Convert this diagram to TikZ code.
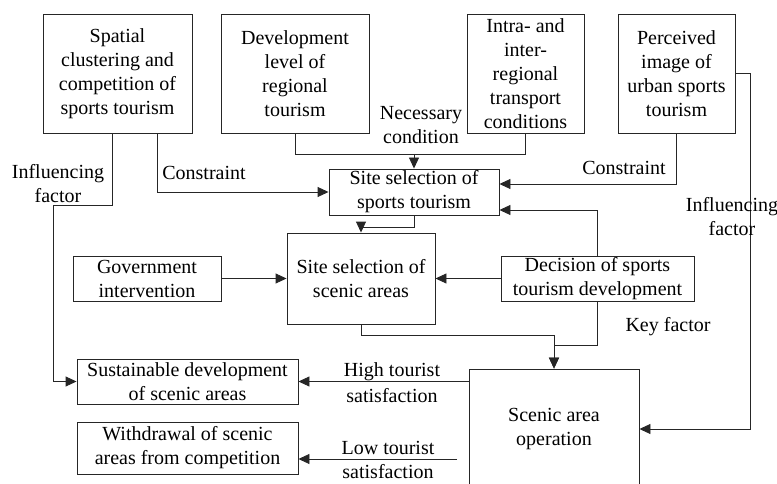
\documentclass[tikz,border=0pt]{standalone}
\usepackage{fontspec}
\setmainfont{Liberation Serif}
\usetikzlibrary{arrows.meta}
\begin{document}
\begin{tikzpicture}[x=1pt,y=-1pt,
  box/.style={draw=black!85, line width=0.9pt, align=center, inner sep=0pt},
  conn/.style={draw=black!85, line width=0.9pt},
  arr/.style={conn, -{Triangle[length=11pt,width=10pt]}},
  lbl/.style={align=center, inner sep=0pt},
  every node/.style={font=\fontsize{20}{24}\selectfont}]
\useasboundingbox (0,0) rectangle (777,484);
\clip (0,0) rectangle (777,484);
% boxes
\node[box, minimum width=149pt, minimum height=119pt] (spatial) at (117.5,73.5) {Spatial\\clustering and\\competition of\\sports tourism};
\node[box, minimum width=148pt, minimum height=119pt] (dev) at (295,73.5) {Development\\level of\\regional\\tourism};
\node[box, minimum width=117pt, minimum height=119pt] (intra) at (525.5,73.5) {Intra- and\\inter-\\regional\\transport\\conditions};
\node[box, minimum width=117pt, minimum height=119pt] (perc) at (676.5,73.5) {Perceived\\image of\\urban sports\\tourism};
\node[box, minimum width=170pt, minimum height=46pt] (sitesp) at (414,192) {Site selection of\\sports tourism};
\node[box, minimum width=148pt, minimum height=91pt] (sitesc) at (361,278.5) {Site selection of\\scenic areas};
\node[box, minimum width=148pt, minimum height=45pt] (gov) at (147,278.5) {Government\\intervention};
\node[box, minimum width=193pt, minimum height=45pt] (dec) at (597.5,278.5) {Decision of sports\\tourism development};
\node[box, minimum width=221pt, minimum height=45pt] (sust) at (187.5,381.5) {Sustainable development\\of scenic areas};
\node[box, minimum width=221pt, minimum height=52pt] (withd) at (187.5,448) {Withdrawal of scenic\\areas from competition};
\node[box, minimum width=170pt, minimum height=120pt] (op) at (554,429) {Scenic area\\operation};
% connectors
\draw[arr] ([xshift=-5.5pt]spatial.south) |- (53,205) |- (sust.west);
\draw[arr] ([xshift=39.5pt]spatial.south) |- (sitesp.west);
\coordinate (nc) at (414,154);
\draw[conn] (dev.south) |- (nc);
\draw[conn] (intra.south) |- (nc);
\draw[arr] (nc) -- (sitesp.north);
\draw[arr] (perc.south) |- ([yshift=8pt]sitesp.east);
\draw[arr] (dec.north) |- ([yshift=-18pt]sitesp.east);
\draw[arr] (perc.east) -- (750,73.5) |- (op.east);
\draw[arr] (sitesp.south) -- ++(0,12) -| (sitesc.north);
\draw[arr] (gov.east) -- (sitesc.west);
\draw[arr] (dec.west) -- (sitesc.east);
\draw[arr] (sitesc.south) -- ++(0,11) -| (op.north);
\draw[arr] (dec.south) -- ++(0,44) -| (op.north);
\draw[arr] (op.west |- sust.east) -- (sust.east);
\coordinate (lowend) at (457,459);
\draw[arr] (lowend) -- (withd.east |- lowend);
% labels
\node[lbl] (l1) at (58,184) {Influencing\\factor};
\node[lbl] (l2) at (204,173) {Constraint};
\node[lbl] (l3) at (421,125) {Necessary\\condition};
\node[lbl] (l4) at (624,168) {Constraint};
\node[lbl] (l5) at (732,217) {Influencing\\factor};
\node[lbl] (l6) at (668,327) {Key factor};
\node[lbl] (l7) at (392,383) {High tourist\\[2pt]satisfaction};
\node[lbl] (l8) at (388,460) {Low tourist\\satisfaction};
\end{tikzpicture}
\end{document}
